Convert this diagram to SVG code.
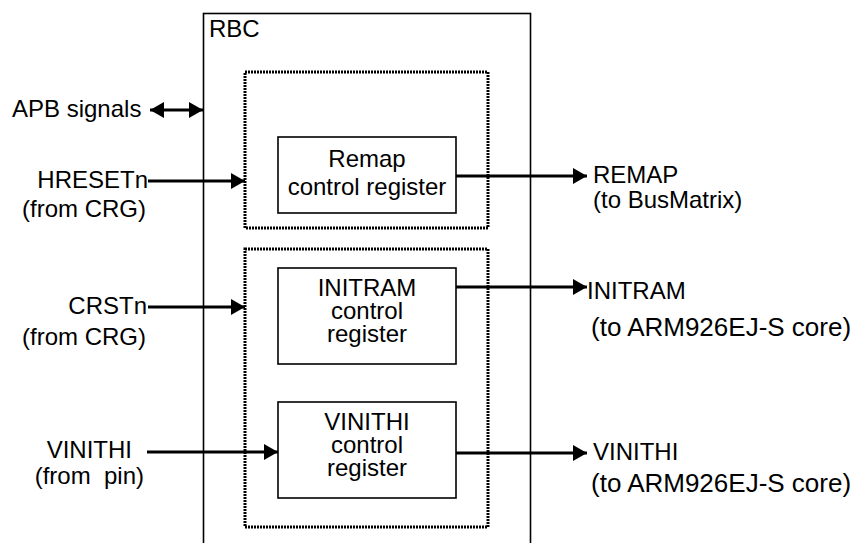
<svg xmlns="http://www.w3.org/2000/svg" width="856" height="543" viewBox="0 0 856 543">
<defs>
<marker id="arr" markerUnits="userSpaceOnUse" markerWidth="15" markerHeight="17" refX="14" refY="8" orient="auto-start-reverse" viewBox="0 0 15 16">
<path d="M0,0 L14,8 L0,16 Z" fill="#000"/>
</marker>
</defs>
<style>
text{font-family:"Liberation Sans",Arial,sans-serif;font-size:24px;fill:#000}
.box{fill:#fff;stroke:#000;stroke-width:1.6}
.dot{fill:none;stroke:#000;stroke-width:3;stroke-dasharray:2 1}
.c{stroke:#000;stroke-width:3;fill:none}
.mid{text-anchor:middle}
.end{text-anchor:end}
.big{font-size:26px}
</style>
<g id="rbc">
<rect x="203.5" y="13.5" width="327" height="540" class="box"/>
<text x="209" y="37">RBC</text>
</g>
<g id="group1"><rect x="245" y="72" width="243" height="156" class="dot"/></g>
<g id="group2"><rect x="245" y="249" width="243" height="278" class="dot"/></g>
<g id="remap">
<rect x="278" y="137" width="178" height="76" class="box"/>
<text x="367" y="167" class="mid">Remap</text>
<text x="367" y="195" class="mid">control register</text>
</g>
<g id="initram">
<rect x="278" y="268" width="178" height="96" class="box"/>
<text x="367" y="296" class="mid">INITRAM</text>
<text x="367" y="319" class="mid">control</text>
<text x="367" y="342" class="mid">register</text>
</g>
<g id="vinithi">
<rect x="278" y="402" width="178" height="96" class="box"/>
<text x="367" y="430" class="mid">VINITHI</text>
<text x="367" y="453" class="mid">control</text>
<text x="367" y="476" class="mid">register</text>
</g>
<g id="apb"><text x="12" y="117">APB signals</text></g>
<g id="hresetn"><text x="148" y="188" class="end">HRESETn</text><text x="146" y="217" class="end">(from CRG)</text></g>
<g id="crstn"><text x="147" y="314" class="end">CRSTn</text><text x="146" y="345" class="end">(from CRG)</text></g>
<g id="vinithi-in"><text x="132" y="458" class="end">VINITHI</text><text x="144" y="484" class="end" xml:space="preserve">(from  pin)</text></g>
<g id="remap-out"><text x="593" y="183">REMAP</text><text x="593" y="208">(to BusMatrix)</text></g>
<g id="initram-out"><text x="587" y="299">INITRAM</text><text x="591" y="336" class="big">(to ARM926EJ-S core)</text></g>
<g id="vinithi-out"><text x="593" y="460">VINITHI</text><text x="591" y="492" class="big">(to ARM926EJ-S core)</text></g>
<g id="connectors">
<line x1="150" y1="110" x2="203" y2="110" class="c" marker-start="url(#arr)" marker-end="url(#arr)"/>
<line x1="148" y1="181" x2="245" y2="181" class="c" marker-end="url(#arr)"/>
<line x1="148" y1="307" x2="245" y2="307" class="c" marker-end="url(#arr)"/>
<line x1="147" y1="452" x2="278" y2="452" class="c" marker-end="url(#arr)"/>
<line x1="456" y1="176" x2="587" y2="176" class="c" marker-end="url(#arr)"/>
<line x1="456" y1="287" x2="587" y2="287" class="c" marker-end="url(#arr)"/>
<line x1="456" y1="453" x2="587" y2="453" class="c" marker-end="url(#arr)"/>
</g>
</svg>
